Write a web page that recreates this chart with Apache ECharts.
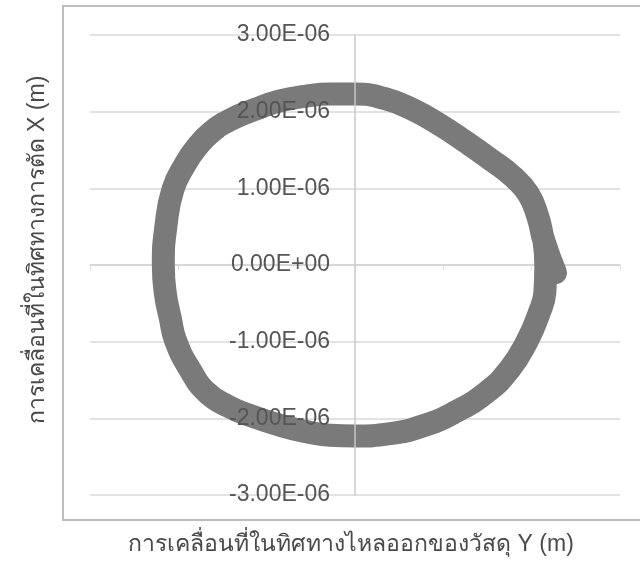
<!DOCTYPE html>
<html>
<head>
<meta charset="utf-8">
<script src="https://cdn.jsdelivr.net/npm/echarts@6/dist/echarts.min.js"></script>
<style>
  html, body { margin: 0; padding: 0; background: #fff; }
  #chart { width: 640px; height: 562px; }
</style>
</head>
<body>
<div id="chart"></div>
<script>
// Tool-tip orbit: displacement in the flow-out direction (Y, horizontal) and cutting direction (X, vertical), metres
const orbitY = [2.27e-6, 2.14e-6, 2.07e-6, 1.96e-6, 1.78e-6, 1.53e-6, 1.26e-6, 0.96e-6, 0.65e-6, 0.34e-6,
                0.00e-6, -0.28e-6, -0.57e-6, -0.85e-6, -1.13e-6, -1.42e-6, -1.63e-6, -1.79e-6, -1.92e-6, -2.06e-6,
                -2.14e-6, -2.17e-6, -2.15e-6, -2.09e-6, -2.03e-6, -1.87e-6, -1.68e-6, -1.44e-6, -1.17e-6, -0.85e-6,
                -0.57e-6, -0.28e-6, 0.00e-6, 0.40e-6, 0.79e-6, 1.13e-6, 1.49e-6, 1.75e-6, 1.95e-6, 2.08e-6,
                2.15e-6, 2.16e-6, 2.14e-6];
const orbitX = [-0.10e-6, 0.31e-6, 0.63e-6, 0.93e-6, 1.16e-6, 1.38e-6, 1.60e-6, 1.83e-6, 2.03e-6, 2.17e-6,
                2.23e-6, 2.23e-6, 2.20e-6, 2.14e-6, 2.03e-6, 1.89e-6, 1.73e-6, 1.54e-6, 1.32e-6, 0.99e-6,
                0.51e-6, 0.00e-6, -0.35e-6, -0.70e-6, -0.99e-6, -1.36e-6, -1.66e-6, -1.84e-6, -1.97e-6, -2.09e-6,
                -2.17e-6, -2.22e-6, -2.23e-6, -2.20e-6, -2.09e-6, -1.92e-6, -1.66e-6, -1.36e-6, -0.99e-6, -0.64e-6,
                -0.35e-6, 0.00e-6, 0.31e-6];

// Vertical axis tick labels, bottom to top
const xTickLabels = ['-3.00E-06', '-2.00E-06', '-1.00E-06', '0.00E+00', '1.00E-06', '2.00E-06', '3.00E-06'];

const horizTitle = 'การเคลื่อนที่ในทิศทางไหลออกของวัสดุ Y (m)';
const vertTitle = 'การเคลื่อนที่ในทิศทางการตัด X (m)';

const points = orbitY.map((v, i) => [v, orbitX[i]]);

const chart = echarts.init(document.getElementById('chart'), null, { renderer: 'canvas' });

const FONT = '"Liberation Sans", Arial, "Noto Sans", sans-serif';
const GRID_LEFT = 90;

const vertScale = { type: 'value', min: -3e-6, max: 3e-6, interval: 1e-6 };

chart.setOption({
  animation: false,
  backgroundColor: '#ffffff',
  grid: { left: GRID_LEFT, right: 20, top: 35, bottom: 67, containLabel: false, outerBoundsMode: 'none' },
  xAxis: {
    type: 'value',
    min: -3e-6, max: 3e-6, interval: 1e-6,
    axisLine: { show: true, onZero: true, onZeroAxisIndex: 0, lineStyle: { color: '#d4d4d4', width: 1.5 } },
    axisTick: { show: true, length: 5, lineStyle: { color: '#e0e0e0' } },
    axisLabel: { show: false },
    splitLine: { show: false }
  },
  yAxis: [
    // gridlines, behind the orbit
    Object.assign({}, vertScale, {
      z: 0,
      axisLine: { show: false },
      axisTick: { show: false },
      axisLabel: { show: false },
      splitLine: { show: true, lineStyle: { color: '#d9d9d9', width: 1.5 } }
    }),
    // axis line and labels, drawn over the orbit
    Object.assign({}, vertScale, {
      z: 10,
      position: 'left',
      axisLine: { show: true, onZero: false, lineStyle: { color: '#c8c8c8', width: 1.5 } },
      axisTick: { show: false },
      axisLabel: {
        show: true,
        margin: 25,
        color: '#555555',
        fontSize: 23,
        fontFamily: FONT,
        formatter: function (value, index) { return xTickLabels[index]; }
      },
      splitLine: { show: false }
    })
  ],
  graphic: [
    {
      type: 'rect', silent: true, z: -1,
      shape: { x: 63, y: 6, width: 600, height: 514 },
      style: { fill: 'none', stroke: '#bdbdbd', lineWidth: 2 }
    },
    {
      type: 'text', silent: true,
      x: 351, y: 545,
      style: { text: horizTitle, fill: '#4a4a4a', font: '23px ' + FONT, align: 'center', verticalAlign: 'middle' }
    },
    {
      type: 'text', silent: true,
      x: 38, y: 250, rotation: Math.PI / 2,
      style: { text: vertTitle, fill: '#4a4a4a', font: '23px ' + FONT, align: 'center', verticalAlign: 'middle' }
    }
  ],
  series: [
    {
      type: 'line',
      yAxisIndex: 0,
      data: points,
      smooth: 0.5,
      showSymbol: false,
      lineStyle: { color: '#7a7a7a', width: 23, cap: 'round', join: 'round' },
      z: 3
    }
  ]
});

// Put the vertical axis (line and labels) through Y = 0, as in a spreadsheet scatter chart
const zeroPx = chart.convertToPixel({ xAxisIndex: 0 }, 0);
chart.setOption({ yAxis: [{}, { offset: -(zeroPx - GRID_LEFT) }] });
</script>
</body>
</html>
